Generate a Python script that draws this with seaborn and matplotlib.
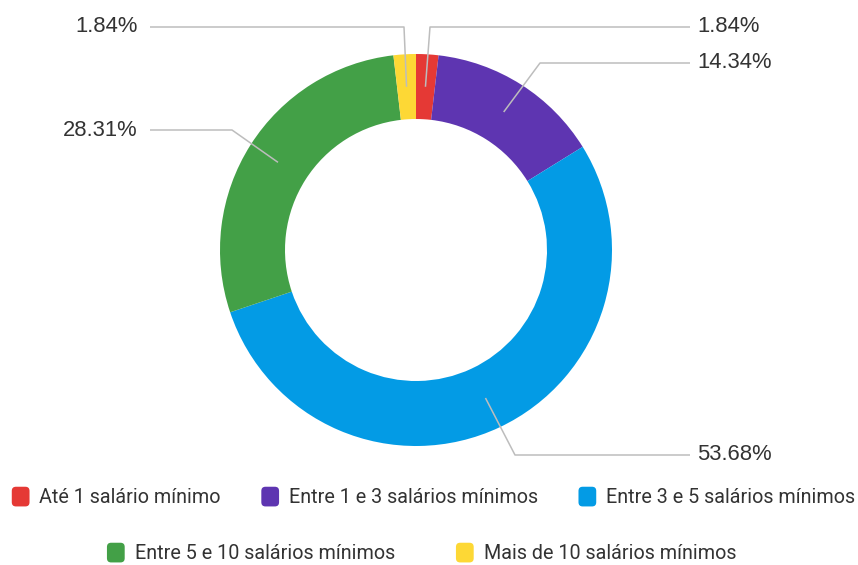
import matplotlib
matplotlib.use("Agg")
import matplotlib.pyplot as plt
from matplotlib.patches import FancyBboxPatch
from matplotlib.legend_handler import HandlerPatch
import numpy as np
import seaborn as sns

# Monthly income brackets and their share of respondents (%)
categories = [
    "Até 1 salário mínimo",
    "Entre 1 e 3 salários mínimos",
    "Entre 3 e 5 salários mínimos",
    "Entre 5 e 10 salários mínimos",
    "Mais de 10 salários mínimos",
]
shares = [1.84, 14.34, 53.68, 28.31, 1.84]
colors = ["#E53935", "#5E35B1", "#039BE5", "#43A047", "#FDD835"]

sns.set_theme(style="white")
plt.rcParams["font.family"] = ["Liberation Sans", "DejaVu Sans"]

W, H = 858, 565
fig = plt.figure(figsize=(W / 100, H / 100), dpi=100)
ax = fig.add_axes([0, 0, 1, 1])

# Donut geometry in pixel units (y measured from the top of the canvas)
cx, cy = 416, 250
r_out, ring = 196, 65

wedges, _ = ax.pie(
    shares,
    colors=colors,
    startangle=90,
    counterclock=False,
    radius=r_out,
    center=(cx, H - cy),
    wedgeprops=dict(width=ring, linewidth=0),
)
ax.set_xlim(0, W)
ax.set_ylim(0, H)
ax.set_aspect("auto")
ax.axis("off")

# Leader lines: from the middle of each ring segment to an elbow, then across
# to the value label.  (elbow_x, label_y, side)
leaders = [
    (430, 27, "right"),
    (540, 63, "right"),
    (515, 455, "right"),
    (232, 130, "left"),
    (404, 27, "left"),
]
r_mid = r_out - ring / 2
for w, val, (ex, ly, side) in zip(wedges, shares, leaders):
    ang = np.deg2rad((w.theta1 + w.theta2) / 2)
    ax0 = cx + r_mid * np.cos(ang)
    ay0 = (H - cy) + r_mid * np.sin(ang)
    if side == "right":
        xend, tx, ha = 690, 697, "left"
    else:
        xend, tx, ha = 150, 138, "right"
    ax.plot([ax0, ex, xend], [ay0, H - ly, H - ly], color="#bdbdbd", lw=1.1,
            solid_capstyle="butt", zorder=3)
    ax.text(tx, H - ly, f"{val:.2f}%", ha=ha, va="center", fontsize=15.8,
            color="#333333")


def rounded_square(legend, orig_handle, xdescent, ydescent, width, height, fontsize):
    return FancyBboxPatch((-xdescent, -ydescent), width, height,
                          boxstyle="round,pad=0,rounding_size=3")


hmap = {w: HandlerPatch(patch_func=rounded_square) for w in wedges}
leg_kw = dict(
    loc="center",
    frameon=False,
    prop={"family": ["Roboto", "DejaVu Sans"], "size": 14.2},
    labelcolor="#333333",
    handlelength=0.9,
    handleheight=1.16,
    handletextpad=0.5,
    borderpad=0,
    handler_map=hmap,
)
fig.legend(wedges[:3], categories[:3], ncol=3, columnspacing=2.05,
           bbox_to_anchor=(433.5 / W, 1 - 497 / H), **leg_kw)
fig.legend(wedges[3:], categories[3:], ncol=2, columnspacing=3.1,
           bbox_to_anchor=(421.5 / W, 1 - 553 / H), **leg_kw)

fig.savefig("out.png", dpi=100, facecolor="white")
